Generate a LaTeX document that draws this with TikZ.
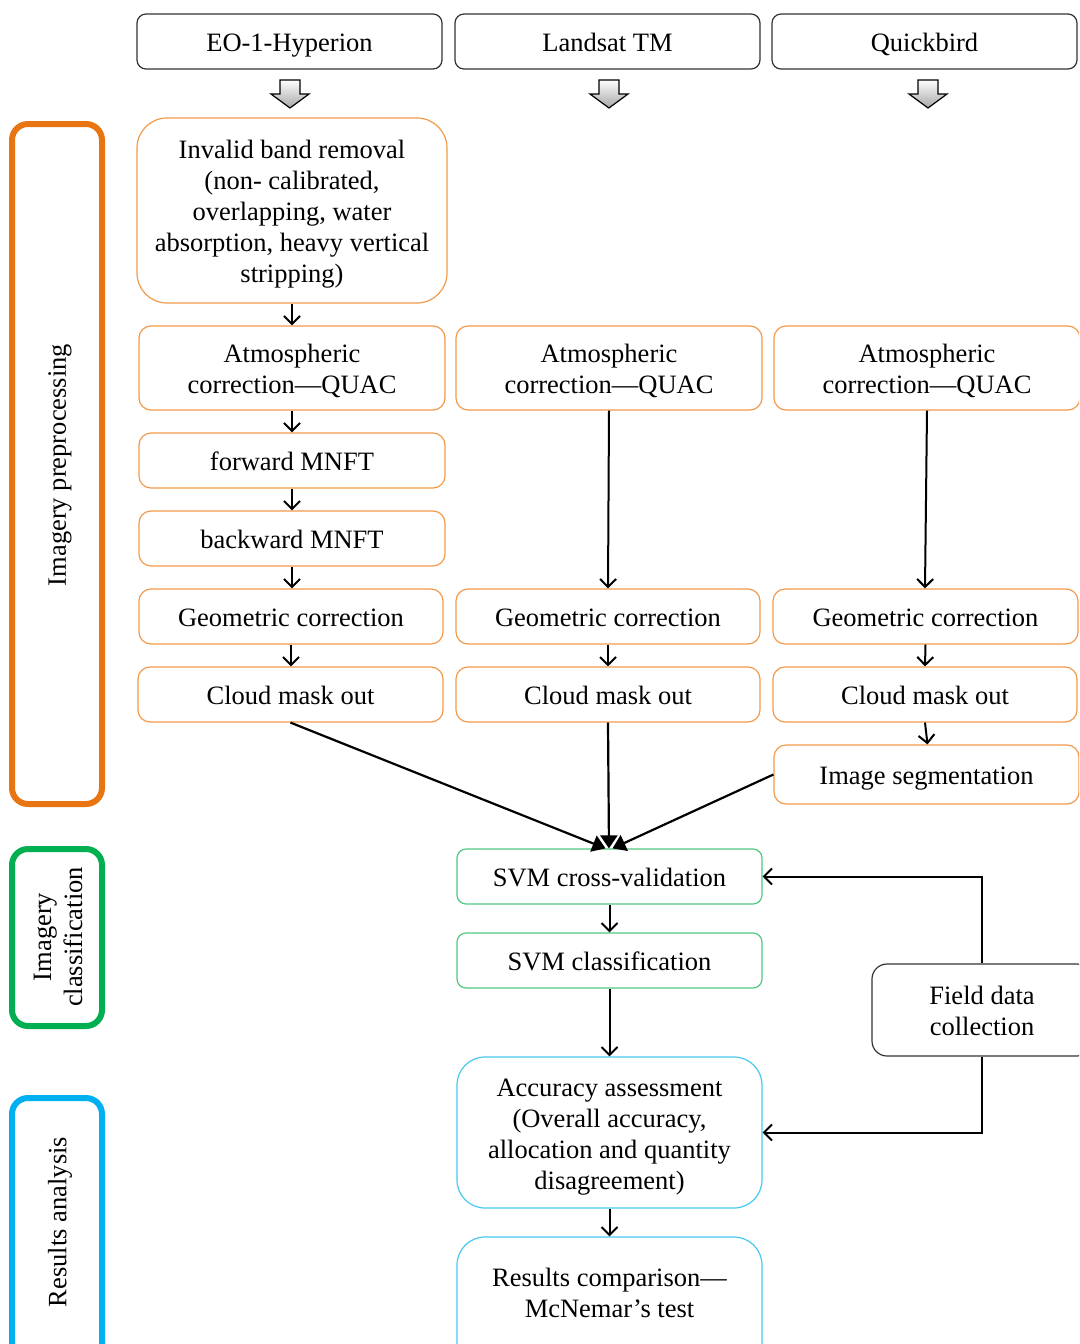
\documentclass[tikz,border=0pt]{standalone}
\usepackage{fontspec}
\setmainfont{Liberation Serif}
\usetikzlibrary{arrows.meta,shapes.geometric}
\definecolor{boxor}{RGB}{243,154,74}
\definecolor{baror}{RGB}{233,117,18}
\definecolor{boxgr}{RGB}{80,200,130}
\definecolor{bargr}{RGB}{0,176,80}
\definecolor{boxbl}{RGB}{70,200,240}
\definecolor{barbl}{RGB}{0,176,240}
\newcommand\topst{\rule{0pt}{26pt}}
\newcommand\botst{\rule[-6pt]{0pt}{6pt}}
\tikzset{
  base/.style={rectangle, draw, line width=1.2pt, align=center, inner sep=2pt,
    font=\fontsize{26.5}{31}\selectfont},
  srcbox/.style={base, draw=black!80, rounded corners=9pt},
  obox/.style={base, draw=boxor, rounded corners=12pt},
  gbox/.style={base, draw=boxgr, rounded corners=9pt},
  bbox/.style={base, draw=boxbl, rounded corners=28pt},
  fbox/.style={base, draw=black!80, rounded corners=15pt},
  sar/.style={line width=2pt, -{Straight Barb[length=8pt,width=16pt,line width=2pt]}},
  tar/.style={line width=2.2pt, -{Triangle[length=13pt,width=17pt]}},
  bar/.style={line width=6pt, rounded corners=16pt},
  barlabel/.style={rotate=90, align=center, font=\fontsize{26.5}{31}\selectfont},
  fat/.style={draw=black, line width=1.2pt, top color=white, bottom color=black!35}
}
\begin{document}
\begin{tikzpicture}[x=1pt,y=-1pt]
\useasboundingbox (0,0) rectangle (1079,1344);
\clip (0,0) rectangle (1079,1344);
\fill[white] (0,0) rectangle (1079,1344);

% source boxes
\node[srcbox, minimum width=305pt, minimum height=55pt] (hyp) at (289.5,41.5) {\topst EO-1-Hyperion\botst};
\node[srcbox, minimum width=305pt, minimum height=55pt] (lan) at (607.5,41.5) {\topst Landsat TM\botst};
\node[srcbox, minimum width=305pt, minimum height=55pt] (qb) at (924.5,41.5) {\topst Quickbird\botst};

% fat arrows
\foreach \cx in {290,609,928}{
  \draw[fat] (\cx-10,80) -- (\cx+10,80) -- (\cx+10,94) -- (\cx+19,94) -- (\cx,108)
    -- (\cx-19,94) -- (\cx-10,94) -- cycle;
}

% column 1
\node[obox, rounded corners=30pt, minimum width=310pt, minimum height=185pt] (inv) at (292,210.5)
  {\topst Invalid band removal\\(non- calibrated,\\overlapping, water\\absorption, heavy vertical\\stripping)\botst};
\node[obox, minimum width=306pt, minimum height=84pt] (atm1) at (292,368) {\topst Atmospheric\\correction---QUAC\botst};
\node[obox, minimum width=306pt, minimum height=55pt] (fwd) at (292,460.5) {\topst forward MNFT\botst};
\node[obox, minimum width=306pt, minimum height=55pt] (bwd) at (292,538.5) {\topst backward MNFT\botst};
\node[obox, minimum width=304pt, minimum height=55pt] (geo1) at (291,616.5) {\topst Geometric correction\botst};
\node[obox, minimum width=305pt, minimum height=55pt] (cld1) at (290.5,694.5) {\topst Cloud mask out\botst};

% column 2
\node[obox, minimum width=306pt, minimum height=84pt] (atm2) at (609,368) {\topst Atmospheric\\correction---QUAC\botst};
\node[obox, minimum width=304pt, minimum height=55pt] (geo2) at (608,616.5) {\topst Geometric correction\botst};
\node[obox, minimum width=304pt, minimum height=55pt] (cld2) at (608,694.5) {\topst Cloud mask out\botst};

% column 3
\node[obox, minimum width=306pt, minimum height=84pt] (atm3) at (927,368) {\topst Atmospheric\\correction---QUAC\botst};
\node[obox, minimum width=305pt, minimum height=55pt] (geo3) at (925.5,616.5) {\topst Geometric correction\botst};
\node[obox, minimum width=304pt, minimum height=55pt] (cld3) at (925,694.5) {\topst Cloud mask out\botst};
\node[obox, minimum width=305pt, minimum height=59pt] (seg) at (926.5,774.5) {\topst Image segmentation\botst};

% classification
\node[gbox, minimum width=305pt, minimum height=55pt] (svmcv) at (609.5,876.5) {\topst SVM cross-validation\botst};
\node[gbox, minimum width=305pt, minimum height=55pt] (svmc) at (609.5,960.5) {\topst SVM classification\botst};
\node[fbox, minimum width=220pt, minimum height=92pt] (fld) at (982,1010) {\topst Field data\\collection\botst};
\node[bbox, minimum width=305pt, minimum height=151pt] (acc) at (609.5,1132.5)
  {\topst Accuracy assessment\\(Overall accuracy,\\allocation and quantity\\disagreement)\botst};
\node[bbox, minimum width=305pt, minimum height=143pt] (res) at (609.5,1308.5)
  {\topst Results comparison---\\McNemar’s test\rule[-38.5pt]{0pt}{38.5pt}};

% short arrows
\draw[sar] (inv.south) -- (atm1.north);
\draw[sar] (atm1.south) -- (fwd.north);
\draw[sar] (fwd.south) -- (bwd.north);
\draw[sar] (bwd.south) -- ([xshift=1pt]geo1.north);
\draw[sar] (geo1.south) -- ([xshift=0.5pt]cld1.north);
\draw[sar] (atm2.south) -- (geo2.north);
\draw[sar] (geo2.south) -- (cld2.north);
\draw[sar] (atm3.south) -- ([xshift=-0.5pt]geo3.north);
\draw[sar] (geo3.south) -- (cld3.north);
\draw[sar] (cld3.south) -- ([xshift=1pt]seg.north);
\draw[sar] (svmcv.south) -- (svmc.north);
\draw[sar] (svmc.south) -- (acc.north);
\draw[sar] (acc.south) -- (res.north);

% converging arrows
\draw[tar] (cld1.south) -- ([xshift=-4pt]svmcv.north);
\draw[tar] (cld2.south) -- ([xshift=-0.5pt]svmcv.north);
\draw[tar] (seg.west) -- ([xshift=3pt]svmcv.north);

% field data connectors
\draw[sar] (fld.north) |- (svmcv.east);
\draw[sar] (fld.south) |- (acc.east);

% side bars
\draw[bar, draw=baror] (12,124) rectangle (102,804);
\node[barlabel] (lb1) at (60,465) {Imagery preprocessing};
\draw[bar, draw=bargr] (12,849) rectangle (102,1026);
\node[barlabel] (lb2) at (58,937) {Imagery\\classification};
\draw[bar, draw=barbl] (12,1098) rectangle (102,1370);
\node[barlabel] (lb3) at (60,1222) {Results analysis};
\end{tikzpicture}
\end{document}
